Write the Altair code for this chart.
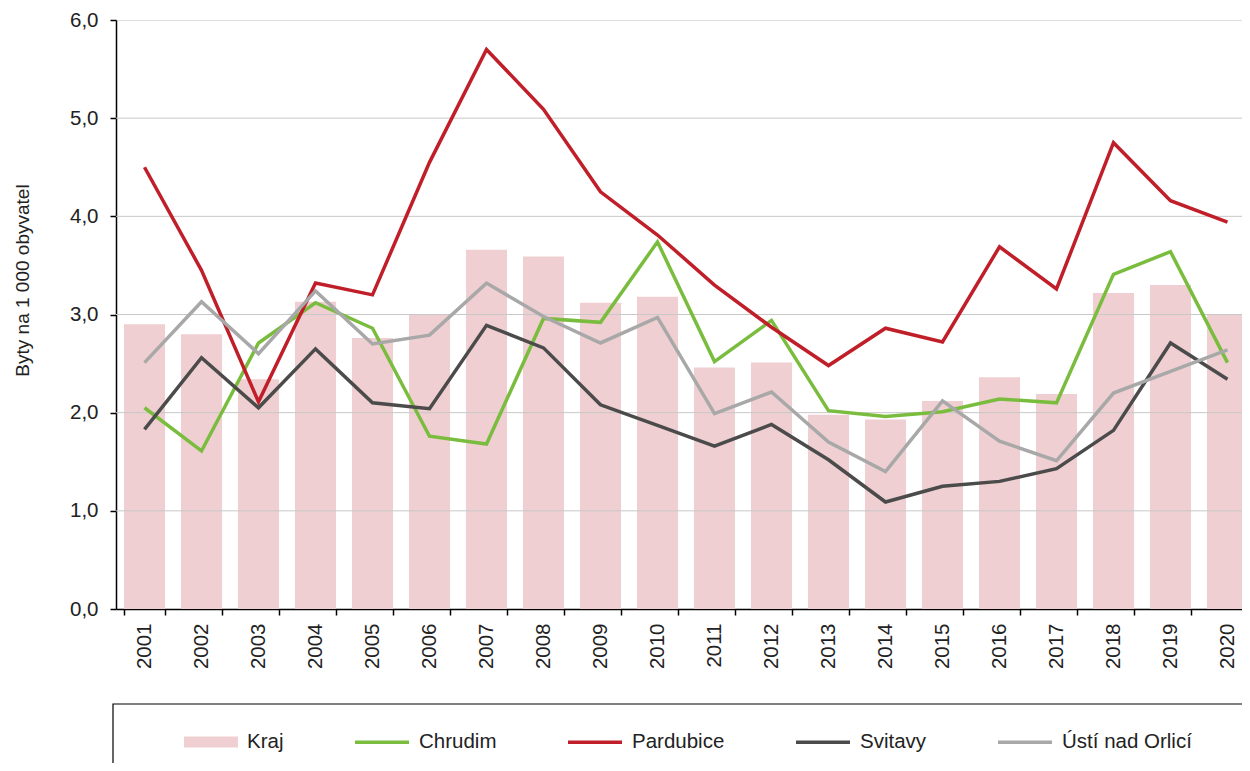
import altair as alt
import pandas as pd

years = [str(y) for y in range(2001, 2021)]
kraj = [2.90, 2.80, 2.34, 3.13, 2.76, 3.00, 3.66, 3.59, 3.12, 3.18,
        2.46, 2.51, 1.98, 1.93, 2.12, 2.36, 2.19, 3.22, 3.30, 3.00]
chrudim = [2.05, 1.61, 2.71, 3.12, 2.86, 1.76, 1.68, 2.96, 2.92, 3.74,
           2.52, 2.94, 2.02, 1.96, 2.01, 2.14, 2.10, 3.41, 3.64, 2.51]
pardubice = [4.50, 3.45, 2.11, 3.32, 3.20, 4.55, 5.70, 5.09, 4.25, 3.81,
             3.30, 2.87, 2.48, 2.86, 2.72, 3.69, 3.26, 4.75, 4.16, 3.94]
svitavy = [1.83, 2.56, 2.05, 2.65, 2.10, 2.04, 2.89, 2.66, 2.08, 1.87,
           1.66, 1.88, 1.52, 1.09, 1.25, 1.30, 1.43, 1.82, 2.71, 2.34]
usti = [2.51, 3.13, 2.60, 3.24, 2.70, 2.79, 3.32, 2.98, 2.71, 2.97,
        1.99, 2.21, 1.70, 1.40, 2.12, 1.71, 1.51, 2.20, 2.42, 2.64]

line_names = ["Chrudim", "Pardubice", "Svitavy", "Ústí nad Orlicí"]
line_colors = ["#7ABD3E", "#C01F2A", "#4B4B4B", "#A8A8A8"]
bar_name = "Kraj"
bar_color = "#EFCFD1"
grid_values = [1, 2, 3, 4, 5]
y_ticks = [0, 1, 2, 3, 4, 5, 6]

FONT = "Liberation Sans"
TXT = "#222222"

bar_df = pd.DataFrame({"year": years, "value": kraj, "series": bar_name})
rows = []
for name, vals in zip(line_names, [chrudim, pardubice, svitavy, usti]):
    for yr, v in zip(years, vals):
        rows.append({"year": yr, "value": v, "series": name})
line_df = pd.DataFrame(rows)
grid_df = pd.DataFrame({"value": grid_values})
frame_df = pd.DataFrame({"k": [0]})

x_scale = alt.Scale(domain=years, paddingInner=0.28, paddingOuter=0.14)
y_scale = alt.Scale(domain=[0, 6], nice=False)

x_axis = alt.Axis(
    title=None, labelAngle=270, labelFont=FONT, labelFontSize=20.5,
    labelColor=TXT, labelPadding=8, tickBand="extent", tickSize=6,
    tickColor="black", tickWidth=1.5, domainColor="black", domainWidth=1.5,
    grid=False,
)
y_axis = alt.Axis(
    title="Byty na 1 000 obyvatel", titleFont=FONT, titleFontSize=19,
    titleFontWeight="normal", titleColor=TXT, titlePadding=37, titleY=260,
    values=y_ticks, labelExpr="replace(format(datum.value, '.1f'), '.', ',')",
    labelFont=FONT, labelFontSize=20.5, labelColor=TXT, labelPadding=12,
    tickSize=6, tickColor="black", tickWidth=1.5,
    domainColor="black", domainWidth=1.5, grid=False,
)

bars = alt.Chart(bar_df).mark_bar().encode(
    x=alt.X("year:O", scale=x_scale, axis=x_axis),
    y=alt.Y("value:Q", scale=y_scale, axis=y_axis),
    fill=alt.Fill(
        "series:N",
        scale=alt.Scale(domain=[bar_name], range=[bar_color]),
        legend=alt.Legend(
            orient="none", legendX=68, legendY=695, title=None,
            symbolType="M-1,-0.2H1V0.2H-1Z", symbolSize=2916,
            symbolStrokeWidth=0, labelFont=FONT, labelFontSize=20.5,
            labelColor=TXT, labelOffset=9, padding=0,
        ),
    ),
)

grid = alt.Chart(grid_df).mark_rule(color="#C8C8C8", strokeWidth=1).encode(
    y=alt.Y("value:Q", scale=y_scale, axis=y_axis)
)

lines = alt.Chart(line_df).mark_line(strokeWidth=3.5).encode(
    x=alt.X("year:O", scale=x_scale, axis=x_axis),
    y=alt.Y("value:Q", scale=y_scale, axis=y_axis),
    stroke=alt.Stroke(
        "series:N",
        scale=alt.Scale(domain=line_names, range=line_colors),
        legend=alt.Legend(
            orient="none", legendX=237, legendY=693, title=None,
            direction="horizontal", symbolType="stroke", symbolSize=2916,
            symbolStrokeWidth=3.5, labelFont=FONT, labelFontSize=20.5,
            labelColor=TXT, labelOffset=8, columnPadding=64, padding=0,
        ),
    ),
    detail="series:N",
)

frame = alt.Chart(frame_df).mark_rect(
    fillOpacity=0, stroke="black", strokeWidth=1.2
).encode(
    x=alt.value(-3), x2=alt.value(1400), y=alt.value(684), y2=alt.value(900)
)

chart = alt.layer(bars, grid, lines, frame).properties(
    width=1140, height=589,
    autosize=alt.AutoSizeParams(type="none"),
    padding={"left": 108, "top": 12, "right": -14, "bottom": 154},
).configure_view(stroke="black", strokeWidth=1.5).configure(
    background="white"
)

chart.save("out.html", embed_options={"renderer": "svg", "actions": False})
